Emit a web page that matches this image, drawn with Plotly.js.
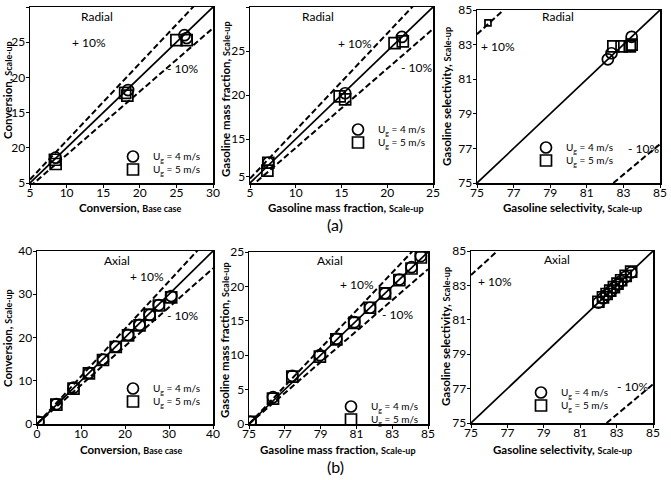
<!DOCTYPE html>
<html><head><meta charset="utf-8">
<script src="https://cdn.plot.ly/plotly-3.0.1.min.js"></script>
<style>html,body{margin:0;padding:0;background:#fff}#chart{width:671px;height:480px}</style>
</head><body><div id="chart"></div>
<script>
// ---------- (a) Radial ----------
// Conversion
const radConvCircX = [8.5, 18.4, 26.1, 26.4];
const radConvCircY = [8.6, 18.2, 26.0, 25.6];
const radConvSqX   = [8.4, 8.5, 18.0, 18.3, 25.0, 26.4];
const radConvSqY   = [8.3, 7.7, 17.8, 17.4, 25.3, 25.3];
// Gasoline mass fraction (y printed labels are offset in the original)
const radGasCircX = [7.0, 15.4, 21.6];
const radGasCircY = [7.3, 15.2, 21.6];
const radGasSqX   = [7.0, 6.9, 14.8, 15.4, 20.8, 21.7];
const radGasSqY   = [7.3, 6.4, 14.85, 14.5, 20.9, 21.1];
// Gasoline selectivity
const radSelCircX = [82.15, 82.35, 83.45];
const radSelCircY = [82.15, 82.5, 83.45];
const radSelSqX   = [82.45, 82.9, 83.35, 83.45];
const radSelSqY   = [82.9, 82.9, 82.9, 83.0];
const radSelStrayX = [75.6];
const radSelStrayY = [84.25];

// ---------- (b) Axial ----------
const axConvX     = [0.3, 4.4, 8.3, 11.8, 15.0, 17.9, 20.7, 23.3, 25.6, 27.7, 30.5];
const axConvCircY = [0.5, 4.6, 8.4, 11.8, 14.9, 17.9, 20.6, 22.9, 25.2, 27.5, 29.6];
const axConvSqY   = [0.3, 4.5, 8.2, 11.7, 14.8, 17.8, 20.5, 22.8, 25.3, 27.4, 29.3];
const axGasX      = [0.2, 3.35, 6.05, 9.9, 12.2, 14.7, 16.9, 19.0, 21.0, 22.7, 24.0];
const axGasCircY  = [0.3, 3.9, 7.0, 10.0, 12.4, 14.8, 16.9, 19.0, 21.0, 22.8, 24.4];
const axGasSqY    = [0.3, 3.7, 6.9, 9.8, 12.3, 14.7, 16.9, 19.0, 20.9, 22.6, 24.2];
const axSelX      = [82.0, 82.25, 82.45, 82.65, 82.85, 83.05, 83.25, 83.5, 83.8];
const axSelCircY  = [82.0, 82.25, 82.45, 82.65, 82.85, 83.05, 83.25, 83.5, 83.75];
const axSelSqY    = [82.05, 82.3, 82.5, 82.7, 82.9, 83.1, 83.3, 83.55, 83.8];

// reference band segments on the selectivity panels
const selUpperX = [75, 76.45], selUpperY = [83.6, 85];
const selLowerX = [82.45, 85], selLowerY = [75, 77.25];

// axis ranges and ticks
const rangeA1 = [5, 30], ticksA1 = [5, 10, 15, 20, 25, 30], labelsA1y = ["5", "20", "15", "20", "25", "30"];
const rangeA2x = [5, 25], ticksA2x = [5, 10, 15, 20, 25];
const ticksA2y = [5.7, 10, 15, 20, 25], labelsA2y = ["5", "15", "20", "25", "30"];
const rangeSel = [75, 85], ticksSel = [75, 77, 79, 81, 83, 85];
const rangeB1 = [0, 40], ticksB1 = [0, 10, 20, 30, 40];
const rangeB2 = [0, 25], ticksB2y = [0, 5, 10, 15, 20, 25];
const ticksB2x = [0, 5, 10, 15, 20, 25], labelsB2x = ["75", "77", "79", "81", "83", "85"];

// texts
const titleConvBase = ["Conversion, ", "Base case"];
const titleConvUp   = ["Conversion, ", "Scale-up"];
const titleGasUp    = ["Gasoline mass fraction, ", "Scale-up"];
const titleSelUp    = ["Gasoline selectivity, ", "Scale-up"];
const name4 = "U<sub>g</sub> = 4 m/s", name5 = "U<sub>g</sub> = 5 m/s";
const FF = "Lato, 'Open Sans', sans-serif";

const traces = [];
function mk(xa, ya, leg, x, y, sym, name, show, size) {
  traces.push({x: x, y: y, xaxis: xa, yaxis: ya, type: 'scatter', mode: 'markers', name: name,
    legend: leg, showlegend: show,
    marker: {symbol: sym, size: size || 11, color: '#000', line: {color: '#000', width: 1.7}}});
}
function ln(xa, ya, x, y, dash) {
  traces.push({x: x, y: y, xaxis: xa, yaxis: ya, type: 'scatter', mode: 'lines', showlegend: false,
    hoverinfo: 'skip', line: {color: '#000', width: dash ? 2 : 1.7, dash: dash ? '6px,3px' : 'solid'}});
}
function band(xa, ya, r) {
  ln(xa, ya, r, r, false);
  ln(xa, ya, r, r.map(v => v * 1.1), true);
  ln(xa, ya, r, r.map(v => v * 0.9), true);
}
function selBand(xa, ya) {
  ln(xa, ya, rangeSel, rangeSel, false);
  ln(xa, ya, selUpperX, selUpperY, true);
  ln(xa, ya, selLowerX, selLowerY, true);
}

band('x', 'y', rangeA1);
mk('x', 'y', 'legend', radConvCircX, radConvCircY, 'circle-open', name4, true);
mk('x', 'y', 'legend2', radConvSqX, radConvSqY, 'square-open', name5, true);

band('x2', 'y2', rangeA2x);
mk('x2', 'y2', 'legend3', radGasCircX, radGasCircY, 'circle-open', name4, true);
mk('x2', 'y2', 'legend4', radGasSqX, radGasSqY, 'square-open', name5, true);

selBand('x3', 'y3');
mk('x3', 'y3', 'legend5', radSelCircX, radSelCircY, 'circle-open', name4, true);
mk('x3', 'y3', 'legend6', radSelSqX, radSelSqY, 'square-open', name5, true);
mk('x3', 'y3', 'legend6', radSelStrayX, radSelStrayY, 'square-open', name5, false, 6);

band('x4', 'y4', rangeB1);
mk('x4', 'y4', 'legend7', axConvX, axConvCircY, 'circle-open', name4, true);
mk('x4', 'y4', 'legend8', axConvX, axConvSqY, 'square-open', name5, true);

band('x5', 'y5', rangeB2);
mk('x5', 'y5', 'legend9', axGasX, axGasCircY, 'circle-open', name4, true);
mk('x5', 'y5', 'legend10', axGasX, axGasSqY, 'square-open', name5, true);

selBand('x6', 'y6');
mk('x6', 'y6', 'legend11', axSelX, axSelCircY, 'circle-open', name4, true);
mk('x6', 'y6', 'legend12', axSelX, axSelSqY, 'square-open', name5, true);

const W = 671, H = 480;
function px(a, b) { return [a / W, b / W]; }
function py(top, bottom) { return [1 - bottom / H, 1 - top / H]; }

function ax(dom, range, tickvals, ticktext, anchor, isY) {
  const o = {domain: dom, range: range, tickvals: tickvals, anchor: anchor,
    showline: true, mirror: true, linecolor: '#000', linewidth: 1.5,
    ticks: 'outside', ticklen: 3, tickwidth: 1, tickcolor: '#000',
    ticklabelstandoff: isY ? -2 : -5,
    showgrid: false, zeroline: false, fixedrange: true,
    tickfont: {family: FF, size: 12, color: '#000'}};
  if (ticktext) o.ticktext = ticktext;
  return o;
}

const layout = {
  width: W, height: H, margin: {l: 0, r: 0, t: 0, b: 0},
  paper_bgcolor: '#fff', plot_bgcolor: '#fff',
  xaxis:  ax(px(30, 213),  rangeA1,  ticksA1,  null, 'y'),
  yaxis:  ax(py(7, 183),   rangeA1,  ticksA1,  labelsA1y, 'x', true),
  xaxis2: ax(px(250, 433), rangeA2x, ticksA2x, null, 'y2'),
  yaxis2: ax(py(7, 183),   rangeA2x, ticksA2y, labelsA2y, 'x2', true),
  xaxis3: ax(px(477, 660), rangeSel, ticksSel, null, 'y3'),
  yaxis3: ax(py(10, 183),  rangeSel, ticksSel, null, 'x3', true),
  xaxis4: ax(px(37, 213),  rangeB1,  ticksB1,  null, 'y4'),
  yaxis4: ax(py(251, 424), rangeB1,  ticksB1,  null, 'x4', true),
  xaxis5: ax(px(249, 428), rangeB2,  ticksB2x, labelsB2x, 'y5'),
  yaxis5: ax(py(252, 424), rangeB2,  ticksB2y, null, 'x5', true),
  xaxis6: ax(px(471, 653), rangeSel, ticksSel, null, 'y6'),
  yaxis6: ax(py(251, 423), rangeSel, ticksSel, null, 'x6', true)
};

// one legend per entry so each sits where the reference draws it
const legPos = [[138,155],[138,168],[363,128],[363,141],[551,146],[551,159],
                [138,387],[138,400],[356,405],[356,418],[546,391],[546,404]];
legPos.forEach((p, i) => {
  layout[i === 0 ? 'legend' : 'legend' + (i + 1)] = {
    x: (p[0] - 25) / W, y: 1 - (p[1] - 13) / H, xanchor: 'left', yanchor: 'top',
    bgcolor: 'rgba(0,0,0,0)', font: {family: FF, size: 10, color: '#000'},
    itemwidth: 30, borderwidth: 0};
});

function ann(xr, yr, x, y, text, size) {
  return {xref: xr, yref: yr, x: x, y: y, text: text, showarrow: false,
    xanchor: 'center', yanchor: 'middle',
    font: {family: FF, size: size || 12, color: '#000'}};
}
function axTitle(t, xp, yp, rot) {
  return {xref: 'paper', yref: 'paper', x: xp / W, y: 1 - yp / H, showarrow: false,
    xanchor: 'center', yanchor: 'middle', textangle: rot ? -90 : 0,
    text: t[0] + "<span style='font-size:9px'>" + t[1] + "</span>",
    font: {family: FF, size: 11.5, color: '#000', weight: 'bold'}};
}

layout.annotations = [
  ann('x', 'y', 14.2, 28.7, 'Radial'), ann('x', 'y', 13.1, 24.9, '+ 10%'), ann('x', 'y', 25.9, 21.2, '- 10%'),
  ann('x2', 'y2', 12.4, 23.9, 'Radial'), ann('x2', 'y2', 16.5, 20.9, '+ 10%'), ann('x2', 'y2', 23.2, 18.1, '- 10%'),
  ann('x3', 'y3', 79.4, 84.6, 'Radial'), ann('x3', 'y3', 76.15, 82.9, '+ 10%'), ann('x3', 'y3', 84.1, 77.0, '- 10%'),
  ann('x4', 'y4', 18.2, 37.9, 'Axial'), ann('x4', 'y4', 25, 34.2, '+ 10%'), ann('x4', 'y4', 33, 25.2, '- 10%'),
  ann('x5', 'y5', 11.3, 23.8, 'Axial'), ann('x5', 'y5', 15.1, 20.3, '+ 10%'), ann('x5', 'y5', 20.7, 15.9, '- 10%'),
  ann('x6', 'y6', 79.7, 84.5, 'Axial'), ann('x6', 'y6', 76.3, 83.2, '+ 10%'), ann('x6', 'y6', 83.9, 77.1, '- 10%'),
  axTitle(titleConvBase, 130, 207), axTitle(titleConvUp, 7, 90, true),
  axTitle(titleGasUp, 346, 207),    axTitle(titleGasUp, 225, 99, true),
  axTitle(titleSelUp, 572, 207),    axTitle(titleSelUp, 446, 97, true),
  axTitle(titleConvBase, 131, 449), axTitle(titleConvUp, 7, 338, true),
  axTitle(titleGasUp, 338, 449),    axTitle(titleGasUp, 224, 340, true),
  axTitle(titleSelUp, 562, 449),    axTitle(titleSelUp, 445, 337, true),
  ann('paper', 'paper', 335 / W, 1 - 224 / H, '(a)', 16),
  ann('paper', 'paper', 335 / W, 1 - 466 / H, '(b)', 16)
];

Plotly.newPlot('chart', traces, layout, {displayModeBar: false, staticPlot: true});
</script></body></html>
